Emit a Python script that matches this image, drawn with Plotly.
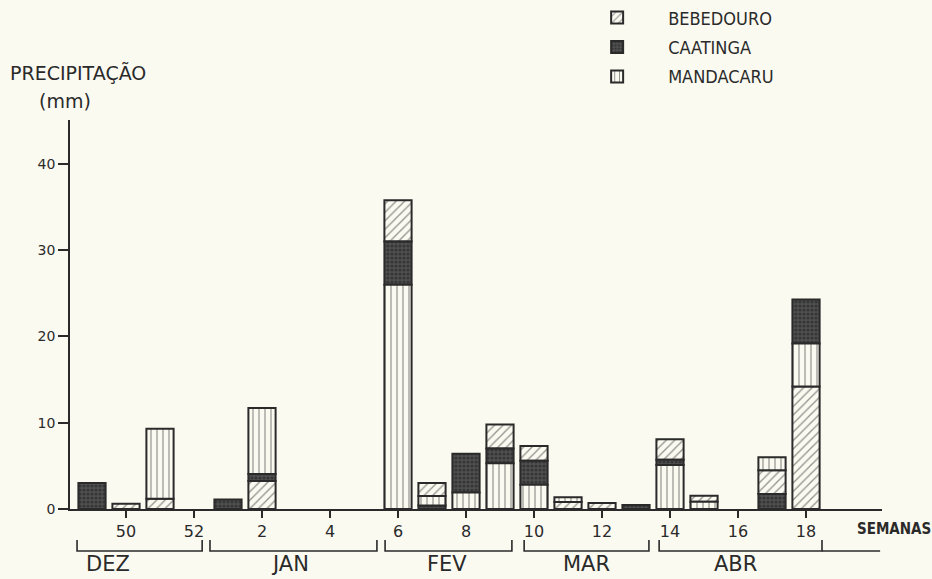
import plotly.graph_objects as go

# Weekly rainfall (mm) at three sites, weeks 49/52 through 18
weeks = [49, 50, 51, 52, 1, 2, 3, 4, 5, 6, 7, 8, 9, 10, 11, 12, 13, 14, 15, 16, 17, 18]
bebedouro = [0, 0.6, 1.2, 0, 0, 3.25, 0, 0, 0, 4.8, 1.5, 0, 2.8, 1.7, 0.8, 0.7, 0, 2.4, 0.7, 0, 2.75, 14.2]
caatinga = [3.0, 0, 0, 0, 1.1, 0.8, 0, 0, 0, 5.0, 0.4, 4.5, 1.7, 2.8, 0, 0, 0.45, 0.6, 0, 0, 1.75, 5.1]
mandacaru = [0, 0, 8.1, 0, 0, 7.65, 0, 0, 0, 26.0, 1.1, 1.9, 5.3, 2.8, 0.55, 0, 0, 5.1, 0.85, 0, 1.5, 5.0]
# stacking order in each bar, bottom to top (B = Bebedouro, C = Caatinga, M = Mandacaru)
stack_order = ["C", "B", "BM", "", "C", "BCM", "", "", "", "MCB", "CMB", "MC", "MCB",
               "MCB", "BM", "B", "C", "MCB", "MB", "", "CBM", "BMC"]

tick_weeks = [50, 52, 2, 4, 6, 8, 10, 12, 14, 16, 18]
y_ticks = [0, 10, 20, 30, 40]

# month brackets under the week axis, in week-position units
months = ["DEZ", "JAN", "FEV", "MAR", "ABR"]
month_start = [-0.44, 3.47, 8.62, 12.71, 16.68]
month_end = [3.24, 8.38, 12.35, 16.38, 21.47]
month_label_pos = [0.47, 5.82, 10.44, 14.53, 18.94]
axis_tail_end = 23.18

INK = "#2a2a2a"
PAPER = "#fbfaf1"
SANS = "DejaVu Sans, Liberation Sans, Arial, sans-serif"
COND = "DejaVu Sans Condensed, Liberation Sans Narrow, DejaVu Sans, sans-serif"

xpos = list(range(len(weeks)))
series = {"B": bebedouro, "C": caatinga, "M": mandacaru}

# compute the base of each segment from the stacking order
bases = {k: [None] * len(weeks) for k in series}
for i, order in enumerate(stack_order):
    level = 0.0
    for k in order:
        bases[k][i] = level
        level += series[k][i]

styles = {
    "B": dict(name="BEBEDOURO", pattern=dict(shape="/", fgcolor=INK, bgcolor=PAPER,
                                              size=6, solidity=0.22)),
    "C": dict(name="CAATINGA", pattern=dict(shape=".", fgcolor="#1c1c1c", bgcolor="#505050",
                                             size=4, solidity=0.5)),
    "M": dict(name="MANDACARU", pattern=dict(shape="|", fgcolor=INK, bgcolor=PAPER,
                                              size=6, solidity=0.2)),
}

fig = go.Figure()
for k in ["B", "C", "M"]:
    vals = [v if v > 0 else None for v in series[k]]
    fig.add_trace(go.Bar(
        x=xpos, y=vals, base=bases[k], width=0.8,
        name=styles[k]["name"], legendgroup=k,
        marker=dict(color=styles[k]["pattern"]["bgcolor"], pattern=styles[k]["pattern"],
                    line=dict(color=INK, width=2)),
        hoverinfo="skip",
    ))

shapes = []
y_line, y_tick = -0.108, -0.080
for s, e in zip(month_start, month_end):
    shapes.append(dict(type="path", xref="x", yref="paper",
                       path=f"M {s},{y_tick} L {s},{y_line} L {e},{y_line} L {e},{y_tick}",
                       line=dict(color=INK, width=1.6)))
shapes.append(dict(type="line", xref="x", yref="paper", x0=month_end[-1], x1=axis_tail_end,
                   y0=y_line, y1=y_line, line=dict(color=INK, width=1.6)))

annotations = []
for m, p in zip(months, month_label_pos):
    annotations.append(dict(x=p, y=-0.1785, xref="x", yref="paper", text=m, showarrow=False,
                            yanchor="bottom", font=dict(size=21, color=INK, family=SANS)))
annotations += [
    dict(x=0.967, y=-0.051, xref="paper", yref="paper", text="<b>SEMANAS</b>", showarrow=False,
         xanchor="left", yanchor="middle", font=dict(size=15, color=INK, family=COND)),
    dict(x=-0.0764, y=1.121, xref="paper", yref="paper", text="PRECIPITAÇÃO", showarrow=False,
         xanchor="left", yanchor="middle", font=dict(size=19, color=INK, family=SANS)),
    dict(x=-0.006, y=1.049, xref="paper", yref="paper", text="(mm)", showarrow=False,
         xanchor="center", yanchor="middle", font=dict(size=19, color=INK, family=SANS)),
]

fig.update_layout(
    width=932, height=579,
    margin=dict(l=70, r=50, t=120, b=70, autoexpand=False),
    paper_bgcolor=PAPER, plot_bgcolor=PAPER,
    barmode="overlay",
    font=dict(family=SANS, color=INK),
    showlegend=True,
    legend=dict(x=0.611, y=1.31, xanchor="left", yanchor="top", bgcolor="rgba(0,0,0,0)",
                font=dict(size=18, color=INK, family=COND), traceorder="grouped",
                tracegroupgap=3, itemwidth=92),
    shapes=shapes, annotations=annotations,
)
fig.update_xaxes(range=[-0.647, 23.235], tickmode="array",
                 tickvals=[weeks.index(w) for w in tick_weeks],
                 ticktext=[str(w) for w in tick_weeks],
                 showline=True, linecolor=INK, linewidth=1.6,
                 ticks="outside", ticklen=7, tickwidth=1.6, tickcolor=INK,
                 showgrid=False, zeroline=False, tickfont=dict(size=16, color=INK, family=SANS))
fig.update_yaxes(range=[0, 45.1], tickmode="array", tickvals=y_ticks,
                 ticktext=[str(t) for t in y_ticks],
                 showline=True, linecolor=INK, linewidth=1.6,
                 ticks="outside", ticklen=10, tickwidth=1.6, tickcolor=INK,
                 showgrid=False, zeroline=False, tickfont=dict(size=14, color=INK, family=SANS))

fig.write_html("out.html", config={"displayModeBar": False})
